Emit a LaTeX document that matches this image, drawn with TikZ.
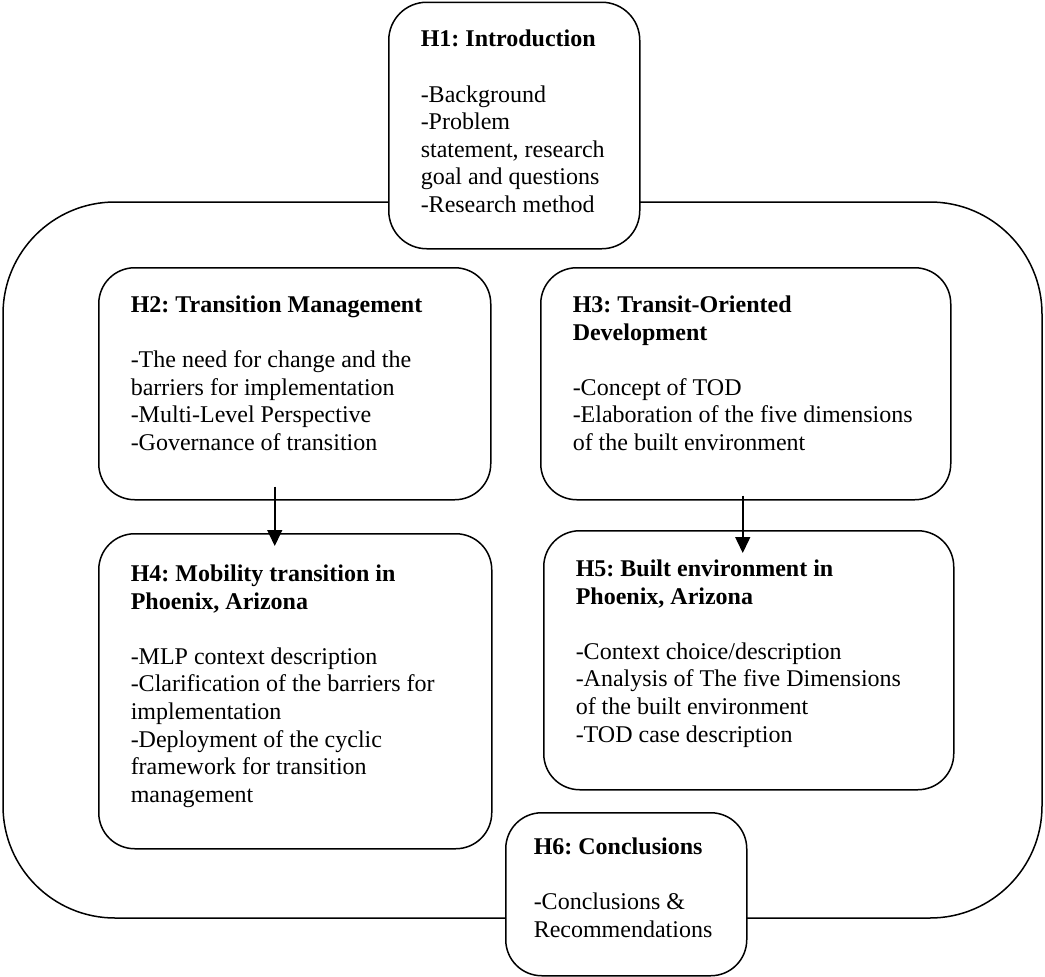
\documentclass[tikz,border=0pt]{standalone}
\usepackage{fontspec}
\setmainfont{Liberation Serif}
\usetikzlibrary{arrows.meta, positioning, calc}

\newcommand{\chaptext}[3]{\parbox[c][#2][t]{#1}{\raggedright\frenchspacing #3}}

\begin{document}
\begin{tikzpicture}[x=1pt, y=-1pt,
    font=\fontsize{24}{27.6}\selectfont,
    chap/.style={draw, line width=1.5pt, rounded corners=36pt, fill=white, anchor=north west, inner xsep=32pt, inner ysep=28pt},
    flow/.style={-{Triangle[width=15pt,length=16pt]}, line width=1.5pt}]
    \useasboundingbox (0,0) rectangle (1045,977);
    % outer frame round H2--H5
    \draw[line width=1.5pt, rounded corners=112pt] (3,202) rectangle (1042,918);
    \node[chap, rounded corners=38pt, minimum width=251pt, minimum height=246.5pt] (h1) at (388,1.5)
        {\chaptext{187pt}{190.5pt}{\textbf{H1: Introduction}\\[\baselineskip]
        -Background\\ -Problem\\ statement, research\\ goal and questions\\ -Research method}};
    \node[chap, minimum width=392pt, minimum height=232pt] (h2) at (98,267)
        {\chaptext{328pt}{176pt}{\textbf{H2: Transition Management}\\[\baselineskip]
        -The need for change and the\\ barriers for implementation\\ -Multi-Level Perspective\\ -Governance of transition}};
    \node[chap, minimum width=410pt, minimum height=232pt] (h3) at (540,267)
        {\chaptext{346pt}{176pt}{\textbf{H3: Transit-Oriented}\\ \textbf{Development}\\[\baselineskip]
        -Concept of TOD\\ -Elaboration of the five dimensions\\ of the built environment}};
    \node[chap, inner ysep=31pt, minimum width=393pt, minimum height=315pt] (h4) at (98,533)
        {\chaptext{329pt}{253pt}{\textbf{H4: Mobility transition in}\\ \textbf{Phoenix, Arizona}\\[\baselineskip]
        -MLP context description\\ -Clarification of the barriers for\\ implementation\\ -Deployment of the cyclic\\ framework for transition\\ management}};
    \node[chap, inner ysep=29pt, minimum width=410pt, minimum height=259pt] (h5) at (543,530)
        {\chaptext{346pt}{201pt}{\textbf{H5: Built environment in}\\ \textbf{Phoenix, Arizona}\\[\baselineskip]
        -Context choice/description\\ -Analysis of The five Dimensions\\ of the built environment\\ -TOD case description}};
    \node[chap, inner xsep=28pt, inner ysep=25pt, minimum width=241pt, minimum height=163pt] (h6) at (505,812)
        {\chaptext{185pt}{113pt}{\textbf{H6: Conclusions}\\[\baselineskip]
        -Conclusions \&\\ Recommendations}};
    \draw[flow] ($(h2.south)+(-20,-14)$) -- ($(h2.south |- h4.north)+(-20,13)$);
    \draw[flow] ($(h3.south)+(-3,-5)$) -- ($(h3.south |- h5.north)+(-3,23)$);
\end{tikzpicture}
\end{document}
